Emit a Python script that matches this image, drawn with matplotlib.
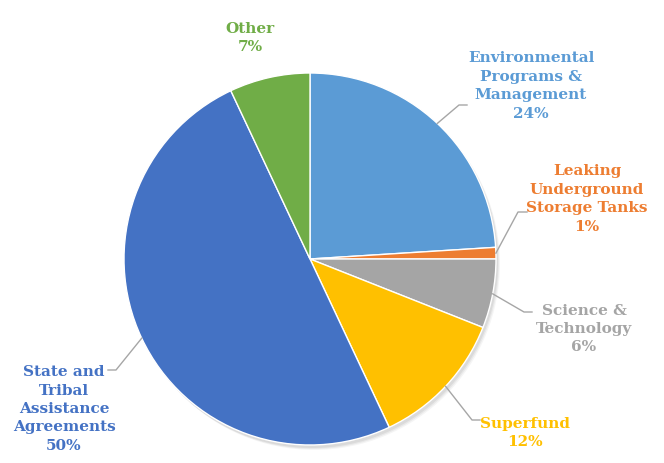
import matplotlib
matplotlib.use("Agg")
import matplotlib.pyplot as plt
from matplotlib.patches import Circle
import numpy as np

categories = ["Environmental\nPrograms &\nManagement", "Leaking\nUnderground\nStorage Tanks",
              "Science &\nTechnology", "Superfund", "State and\nTribal\nAssistance\nAgreements", "Other"]
values = [24, 1, 6, 12, 50, 7]
colors = ["#5B9BD5", "#ED7D31", "#A5A5A5", "#FFC000", "#4472C4", "#70AD47"]
label_colors = ["#5B9BD5", "#ED7D31", "#A5A5A5", "#FFC000", "#4472C4", "#70AD47"]

W, H = 664, 464
fig = plt.figure(figsize=(W / 100, H / 100), dpi=100)
ax = fig.add_axes([0, 0, 1, 1])
cx, cy, r = 310, H - 260, 186

# soft drop shadow
for k, a in enumerate([0.06, 0.05, 0.04]):
    ax.add_patch(Circle((cx + 2 + k, cy - 3 - k), r, color="black", alpha=a, lw=0, zorder=0))

wedges, _ = ax.pie(values, colors=colors, startangle=90, counterclock=False,
                   center=(cx, cy), radius=r, frame=True,
                   wedgeprops=dict(edgecolor="white", linewidth=1.0, zorder=1))
ax.set_xlim(0, W)
ax.set_ylim(0, H)
ax.set_aspect("equal")
ax.axis("off")

# label positions (pixel coords, y from top)
label_pos = [(531, 86), (587, 199), (584, 329), (525, 433), (64, 409), (250, 38)]
# leader lines: (text-side end x, elbow x, y)
leaders = [(467, 459, 106), (527, 518, 213), (532, 524, 313), (480, 472, 421), (108, 116, 371), None]

for i, w in enumerate(wedges):
    mid = np.deg2rad((w.theta1 + w.theta2) / 2)
    ex, ey = cx + r * np.cos(mid), cy + r * np.sin(mid)
    tx, ty = label_pos[i]
    ax.text(tx, H - ty, f"{categories[i]}\n{values[i]:.0f}%", ha="center", va="center",
            color=label_colors[i], fontsize=11, fontweight="bold",
            family="DejaVu Serif", linespacing=1.4)
    if leaders[i] is not None:
        x0, x1, by = leaders[i]
        ax.plot([x0, x1, ex], [H - by, H - by, ey], color="#A6A6A6", lw=1, zorder=3)

fig.savefig("out.png", dpi=100)
